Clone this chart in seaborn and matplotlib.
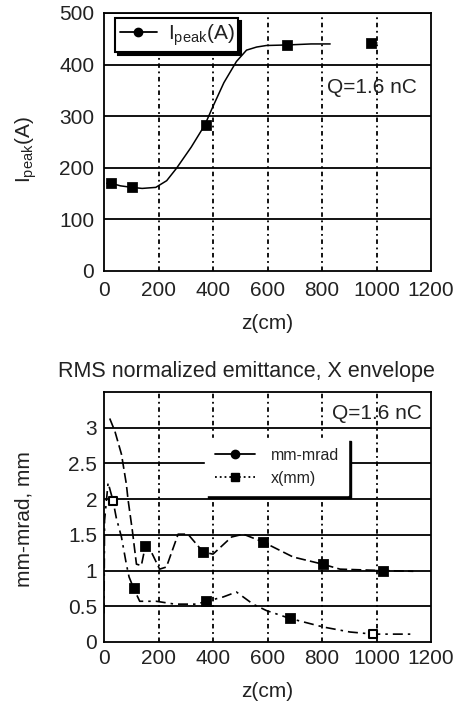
import numpy as np
import pandas as pd
import seaborn as sns
import matplotlib.pyplot as plt
from matplotlib.lines import Line2D

## Data

# top panel: peak current vs z
z_peak = [10, 27, 60, 103, 140, 190, 230, 266, 320, 370, 400, 440, 486, 523, 560, 596, 670, 760, 830,
          970, 980, 1000]
i_peak = [170, 170, 165, 162, 160, 162, 175, 199, 240, 283, 319, 365, 406, 428, 434, 437, 438, 440, 440,
          442, 442, 442]
seg_peak = [0] * 19 + [1] * 3
z_peak_mark = [27, 103, 375, 670, 980]
i_peak_mark = [170, 162, 283, 438, 442]

# bottom panel: emittance (mm-mrad) and x envelope (mm)
z_emit = [21, 40, 64, 82, 88, 104, 119, 137, 152, 175, 204, 229, 272, 308, 364, 400, 468, 511, 584,
          694, 802, 866, 1025, 1135]
emit = [3.13, 2.95, 2.63, 2.21, 2.0, 1.56, 1.09, 1.07, 1.35, 1.25, 1.02, 1.05, 1.51, 1.51, 1.26, 1.23,
        1.47, 1.51, 1.40, 1.19, 1.09, 1.02, 1.0, 0.99]
z_emit_mark = [152, 364, 584, 802, 1025]
emit_mark = [1.35, 1.26, 1.40, 1.09, 1.0]

z_env = [0, 2, 15, 33, 45, 64, 82, 92, 109, 131, 192, 260, 339, 376, 437, 486, 547, 596, 682, 804,
         902, 988, 1135]
x_env = [0.4, 1.7, 2.23, 1.98, 1.74, 1.47, 1.09, 0.91, 0.75, 0.57, 0.57, 0.53, 0.53, 0.57, 0.63,
         0.70, 0.53, 0.44, 0.33, 0.21, 0.14, 0.11, 0.11]
z_env_mark = [109, 376, 682]
x_env_mark = [0.75, 0.57, 0.33]
z_env_open = [33, 988]
x_env_open = [1.98, 0.11]

x_ticks = [0, 200, 400, 600, 800, 1000, 1200]

sns.set_theme(style="white")
plt.rcParams['font.family'] = ['Liberation Sans', 'DejaVu Sans']
plt.rcParams['mathtext.default'] = 'regular'

fig = plt.figure(figsize=(4.59, 7.02), dpi=100)
ax1 = fig.add_axes([0.2266, 0.614, 0.7124, 0.3675])
ax2 = fig.add_axes([0.2266, 0.0855, 0.7124, 0.356])


def style_axes(ax, yticks, ylim, pad):
    ax.set_xlim(0, 1200)
    ax.set_ylim(*ylim)
    ax.set_xticks(x_ticks)
    ax.set_yticks(yticks)
    for y in yticks[1:]:
        ax.axhline(y, color='black', lw=1.3, zorder=1)
    for x in x_ticks[1:-1]:
        ax.axvline(x, color='black', lw=1.3, ls=(0, (2.5, 2, 1, 2)), zorder=1)
    for s in ax.spines.values():
        s.set_color('black')
        s.set_linewidth(1.3)
    ax.tick_params(length=0, labelsize=15, colors='#222222', pad=pad)
    ax.set_xlabel('z(cm)', fontsize=15, color='#222222', labelpad=10)


## Top panel
df_peak = pd.DataFrame({'z': z_peak, 'I': i_peak, 'seg': seg_peak})
sns.lineplot(data=df_peak, x='z', y='I', units='seg', estimator=None, color='black', lw=1.1,
             ax=ax1, zorder=3)
sns.scatterplot(x=z_peak_mark, y=i_peak_mark, marker='s', s=45, color='black', edgecolor='black',
                ax=ax1, zorder=4)
style_axes(ax1, [0, 100, 200, 300, 400, 500], (0, 500), 7)
ax1.set_yticklabels(['0', '100', '200', '300', '400', '500'])
ax1.set_ylabel('I$_{peak}$(A)', fontsize=15, color='#222222')
ax1.yaxis.set_label_coords(-0.2, 0.47)
ax1.text(0.682, 0.713, 'Q=1.6 nC', transform=ax1.transAxes, fontsize=15, color='#222222',
         va='center', ha='left', zorder=5)
h1 = [Line2D([], [], color='black', lw=1.3, marker='o', markersize=6)]
leg1 = ax1.legend(h1, ['I$_{peak}$(A)'], loc='upper left', bbox_to_anchor=(0.035, 0.98),
                  borderaxespad=0, fontsize=15, frameon=True, fancybox=False, framealpha=1,
                  edgecolor='black', shadow={'color': 'black', 'alpha': 1}, handlelength=1.8,
                  handletextpad=0.5, borderpad=0.2)
leg1.get_frame().set_linewidth(1.5)
for t in leg1.get_texts():
    t.set_color('#222222')

## Bottom panel
df_emit = pd.DataFrame({'z': z_emit, 'v': emit})
df_env = pd.DataFrame({'z': z_env, 'v': x_env})
sns.lineplot(data=df_emit, x='z', y='v', color='black', lw=1.2, ls=(0, (6, 2.5)), ax=ax2, zorder=3)
sns.lineplot(data=df_env, x='z', y='v', color='black', lw=1.2, ls=(0, (6, 3, 1.5, 3)), ax=ax2, zorder=3)
sns.scatterplot(x=z_emit_mark, y=emit_mark, marker='s', s=50, color='black', edgecolor='black',
                ax=ax2, zorder=4)
sns.scatterplot(x=z_env_mark, y=x_env_mark, marker='s', s=50, color='black', edgecolor='black',
                ax=ax2, zorder=4)
sns.scatterplot(x=z_env_open, y=x_env_open, marker='s', s=40, color='white', edgecolor='black',
                linewidth=1.5, ax=ax2, zorder=4)
style_axes(ax2, [0, 0.5, 1, 1.5, 2, 2.5, 3], (0, 3.5), 5)
ax2.set_yticklabels(['0', '0.5', '1', '1.5', '2', '2.5', '3'])
ax2.set_ylabel('mm-mrad, mm', fontsize=15, color='#222222')
ax2.yaxis.set_label_coords(-0.215, 0.49)
ax2.set_title('RMS normalized emittance, X envelope', fontsize=15.5, color='#222222', pad=11,
              x=0.437)
ax2.text(0.697, 0.916, 'Q=1.6 nC', transform=ax2.transAxes, fontsize=15, color='#222222',
         va='center', ha='left', zorder=5)
h2 = [Line2D([], [], color='black', lw=1.3, marker='o', markersize=6),
      Line2D([], [], color='black', lw=1.3, ls=':', marker='s', markersize=6)]
leg2 = ax2.legend(h2, ['mm-mrad', 'x(mm)'], loc='upper left', bbox_to_anchor=(0.309, 0.816),
                  borderaxespad=0, fontsize=11.5, frameon=True, fancybox=False, framealpha=1,
                  edgecolor='white', shadow={'color': 'black', 'alpha': 1}, handlelength=2.5,
                  handletextpad=1.0, borderpad=0.6, labelspacing=0.5)
for t in leg2.get_texts():
    t.set_color('#222222')

fig.savefig('out.png', dpi=100, facecolor='white')
